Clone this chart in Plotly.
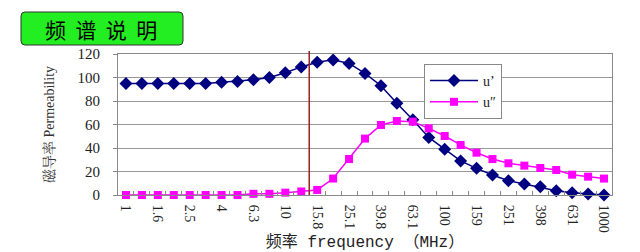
import plotly.graph_objects as go

# ---- data ----
freq = ["1", "1.26", "1.58", "2", "2.51", "3.16", "3.98", "5.01", "6.31", "7.94",
        "10", "12.6", "15.8", "20", "25.1", "31.6", "39.8", "50.1", "63.1", "79.4",
        "100", "126", "159", "200", "251", "316", "398", "501", "631", "794", "1000"]
tick_labels = ["1", "1.6", "2.5", "4", "6.3", "10", "15.8", "25.1", "39.8", "63.1",
               "100", "159", "251", "398", "631", "1000"]
u_real = [95, 95, 95, 95, 95, 95, 96, 96.7, 98, 100,
          104, 109, 113, 115, 112, 103.5, 93, 78, 64, 49,
          39, 29, 22.7, 17, 12.2, 9.4, 7.1, 3.7, 2, 0.9, 0]
u_imag = [0, 0, 0, 0, 0, 0, 0, 0, 1, 1,
          2, 3, 4.3, 14, 30.6, 48, 59.6, 63, 62.4, 56.7,
          50.2, 42.6, 36, 30.6, 27, 25, 23, 21.3, 17.3, 15.6, 14]
y_ticks = [0, 20, 40, 60, 80, 100, 120]
marker_freq = "15.8"

# ---- layout geometry (pixels) ----
W, H = 640, 252
ML, MR, MT, MB = 118, 28, 54, 57
PW, PH = W - ML - MR, H - MT - MB


def px_x(px):
    return (px - ML) / PW


def px_y(py):
    return (H - MB - py) / PH


fig = go.Figure()
fig.add_trace(go.Scatter(
    x=freq, y=u_real, name="u’", mode="lines+markers",
    line=dict(color="#000080", width=1.5),
    marker=dict(symbol="diamond", size=10, color="#000080"),
    cliponaxis=False))
fig.add_trace(go.Scatter(
    x=freq, y=u_imag, name="u″", mode="lines+markers",
    line=dict(color="#FF00FF", width=1.5),
    marker=dict(symbol="square", size=8, color="#FF00FF"),
    cliponaxis=False))

# vertical marker line at boundary before 15.8
bidx = freq.index(marker_freq) - 0.5
fig.add_shape(type="line", xref="x", yref="paper", x0=bidx, x1=bidx,
              y0=0, y1=px_y(51), line=dict(color="#992222", width=1.5))

# title box with rounded corners
x0, x1, y0, y1 = 21, 183, 12, 45
r = 4
path = (f"M {px_x(x0 + r)},{px_y(y0)} L {px_x(x1 - r)},{px_y(y0)} "
        f"Q {px_x(x1)},{px_y(y0)} {px_x(x1)},{px_y(y0 + r)} "
        f"L {px_x(x1)},{px_y(y1 - r)} Q {px_x(x1)},{px_y(y1)} {px_x(x1 - r)},{px_y(y1)} "
        f"L {px_x(x0 + r)},{px_y(y1)} Q {px_x(x0)},{px_y(y1)} {px_x(x0)},{px_y(y1 - r)} "
        f"L {px_x(x0)},{px_y(y0 + r)} Q {px_x(x0)},{px_y(y0)} {px_x(x0 + r)},{px_y(y0)} Z")
fig.add_shape(type="path", xref="paper", yref="paper", path=path,
              fillcolor="#22EE22", line=dict(color="#333333", width=1))
fig.add_annotation(text="频  谱  说  明", xref="paper", yref="paper",
                   x=px_x(101), y=px_y(29), xanchor="center", yanchor="middle",
                   showarrow=False,
                   font=dict(family="Noto Sans CJK SC", size=21, color="#000000"))

ticktext = [tick_labels[i // 2] if i % 2 == 0 else "" for i in range(len(freq))]

fig.update_layout(
    width=W, height=H,
    margin=dict(l=ML, r=MR, t=MT, b=MB),
    paper_bgcolor="white", plot_bgcolor="white",
    font=dict(family="Liberation Serif", size=13, color="#222222"),
    showlegend=True,
    legend=dict(x=px_x(424), y=px_y(64), xanchor="left", yanchor="top",
                bgcolor="white", bordercolor="#888888", borderwidth=1,
                font=dict(family="Liberation Serif", size=14, color="#222222"),
                itemwidth=48, tracegroupgap=0),
    xaxis=dict(
        type="category", tickmode="array", tickvals=freq, ticktext=ticktext,
        tickson="boundaries", ticks="inside", ticklen=4, tickcolor="#888888",
        tickangle=90, ticklabelstandoff=6, automargin=False,
        showline=True, linecolor="#888888", mirror=True, showgrid=False,
        tickfont=dict(family="Liberation Serif", size=14, color="#222222"),
        title=dict(text="频率 frequency （MHz）", standoff=4,
                   font=dict(family="Liberation Mono, Noto Sans CJK SC", size=16, color="#222222")),
        range=[-0.5, len(freq) - 0.5],
    ),
    yaxis=dict(
        range=[0, 120], tickmode="array", tickvals=y_ticks,
        ticks="outside", ticklen=4, tickcolor="#888888", ticklabelstandoff=10,
        automargin=False,
        showline=True, linecolor="#888888", mirror=True,
        showgrid=True, gridcolor="#999999", gridwidth=1,
        tickfont=dict(family="Liberation Serif", size=15, color="#222222"),
        title=dict(text="磁导率 Permeability", standoff=19,
                   font=dict(family="Liberation Serif, Noto Serif CJK SC", size=14, color="#333333")),
    ),
)

fig.write_html("out.html")
